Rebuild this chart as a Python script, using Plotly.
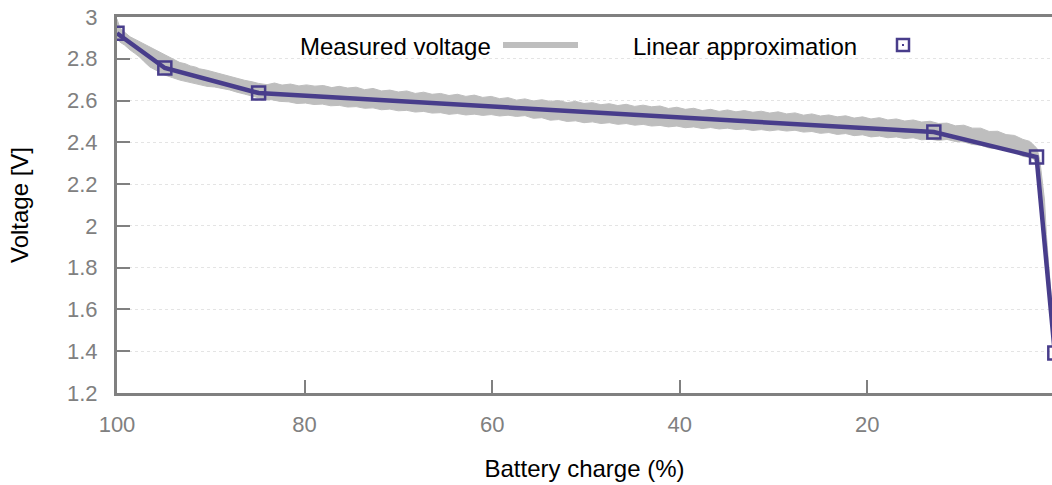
import plotly.graph_objects as go

# ---- data ----
# Measured voltage band: upper envelope (charge %, V) from 100 % down to 0 %
upper_charge = [100.0, 99.7, 99.4, 99.0, 98.6, 98.2, 97.6, 97.1, 96.5, 96.0, 95.4, 94.8, 94.3, 93.8,
                93.3, 92.7, 92.2, 91.6, 91.2, 90.4, 89.6, 88.8, 88.0, 87.2, 86.4, 85.6,
                84.9, 84.0, 83.2, 82.4, 81.5, 80.6, 79.8, 78.9, 78.0, 77.1, 76.3, 75.4, 74.5, 73.6,
                72.7, 71.8, 70.9, 70.0, 69.1, 68.2, 67.3, 66.4, 65.5, 64.6, 63.7, 62.8, 61.9, 61.0,
                60.1, 59.2, 58.3, 57.4, 56.5, 55.6, 54.7, 53.8, 52.9, 52.0, 51.1, 50.2, 49.3, 48.4,
                47.5, 46.6, 45.7, 44.8, 43.9, 43.0, 42.1, 41.2, 40.3, 39.4, 38.5, 37.6, 36.7, 35.8,
                34.9, 34.0, 33.1, 32.2, 31.3, 30.4, 29.5, 28.6, 27.7, 26.8, 25.9, 25.0, 24.1, 23.2,
                22.3, 21.4, 20.5, 19.6, 18.7, 17.8, 16.9, 16.0, 15.1, 14.2, 13.3, 12.4, 11.5, 10.6,
                9.7, 8.8, 7.9, 7.0, 6.1, 5.2, 4.3, 3.4, 2.7, 2.2, 1.9,
                1.6, 1.35, 1.1, 0.9, 0.66, 0.4, 0.13, 0.0]
upper_volt = [2.990, 2.950, 2.935, 2.918, 2.905, 2.896, 2.882, 2.870, 2.855, 2.846, 2.830, 2.818, 2.806, 2.795,
              2.782, 2.776, 2.766, 2.760, 2.752, 2.745, 2.735, 2.726, 2.716, 2.708, 2.697, 2.690,
              2.682, 2.676, 2.684, 2.674, 2.679, 2.670, 2.675, 2.669, 2.672, 2.662, 2.668, 2.660, 2.664, 2.652,
              2.658, 2.646, 2.650, 2.641, 2.646, 2.634, 2.640, 2.630, 2.634, 2.624, 2.630, 2.620, 2.626, 2.615,
              2.620, 2.609, 2.614, 2.602, 2.608, 2.598, 2.604, 2.596, 2.600, 2.590, 2.596, 2.586, 2.590, 2.580,
              2.585, 2.576, 2.582, 2.572, 2.578, 2.570, 2.574, 2.562, 2.568, 2.558, 2.563, 2.552, 2.558, 2.548,
              2.555, 2.546, 2.552, 2.544, 2.549, 2.540, 2.546, 2.536, 2.541, 2.530, 2.536, 2.526, 2.531, 2.522,
              2.527, 2.516, 2.522, 2.512, 2.518, 2.507, 2.512, 2.502, 2.507, 2.497, 2.501, 2.490, 2.492, 2.479,
              2.482, 2.468, 2.468, 2.452, 2.453, 2.437, 2.433, 2.414, 2.405, 2.385, 2.370,
              2.315, 2.220, 2.124, 1.960, 1.803, 1.670, 1.550, 1.360]
# lower envelope, from 0 % back up to 100 %
lower_charge = [0.2, 0.35, 0.5, 0.7, 0.85, 0.99, 1.1, 1.25, 1.4, 1.55, 1.65, 1.77,
                2.2, 2.7, 3.4, 4.3, 5.2, 6.1, 7.0, 7.9, 8.8, 9.7, 10.6, 11.5,
                12.4, 13.3, 14.2, 15.1, 16.0, 16.9, 17.8, 18.7, 19.6, 20.5, 21.4, 22.3, 23.2, 24.1,
                25.0, 25.9, 26.8, 27.7, 28.6, 29.5, 30.4, 31.3, 32.2, 33.1, 34.0, 34.9, 35.8, 36.7,
                37.6, 38.5, 39.4, 40.3, 41.2, 42.1, 43.0, 43.9, 44.8, 45.7, 46.6, 47.5, 48.4, 49.3,
                50.2, 51.1, 52.0, 52.9, 53.8, 54.7, 55.6, 56.5, 57.4, 58.3, 59.2, 60.1, 61.0, 61.9,
                62.8, 63.7, 64.6, 65.5, 66.4, 67.3, 68.2, 69.1, 70.0, 70.9, 71.8, 72.7, 73.6, 74.5,
                75.4, 76.3, 77.2, 78.1, 79.0, 79.9, 80.8, 81.7, 82.6, 83.5, 84.3, 84.9, 85.6, 86.4,
                87.2, 88.0, 88.8, 89.6, 90.4, 91.2, 92.2, 93.3, 94.1, 94.9, 95.7, 96.5, 97.1, 97.6,
                98.1, 98.6, 99.2, 99.7, 100.0]
lower_volt = [1.450, 1.550, 1.640, 1.700, 1.760, 1.803, 1.880, 1.960, 2.040, 2.124, 2.200, 2.290,
              2.318, 2.328, 2.333, 2.352, 2.360, 2.370, 2.373, 2.386, 2.390, 2.402, 2.404, 2.414,
              2.409, 2.415, 2.412, 2.422, 2.418, 2.426, 2.422, 2.430, 2.426, 2.436, 2.432, 2.442, 2.438, 2.447,
              2.443, 2.452, 2.449, 2.458, 2.454, 2.460, 2.455, 2.461, 2.457, 2.464, 2.461, 2.468, 2.464, 2.471,
              2.466, 2.474, 2.470, 2.478, 2.474, 2.481, 2.478, 2.486, 2.482, 2.490, 2.486, 2.494, 2.490, 2.498,
              2.494, 2.503, 2.500, 2.509, 2.506, 2.518, 2.515, 2.528, 2.524, 2.530, 2.526, 2.533, 2.529, 2.535,
              2.531, 2.538, 2.534, 2.542, 2.540, 2.548, 2.545, 2.553, 2.551, 2.559, 2.556, 2.565, 2.563, 2.571,
              2.569, 2.577, 2.575, 2.583, 2.581, 2.588, 2.586, 2.594, 2.596, 2.604, 2.606, 2.614, 2.620, 2.631,
              2.640, 2.651, 2.658, 2.665, 2.668, 2.676, 2.686, 2.698, 2.710, 2.722, 2.742, 2.761, 2.786, 2.809,
              2.826, 2.842, 2.866, 2.880, 2.899]

# Linear approximation breakpoints
approx_charge = [100.0, 94.9, 84.9, 12.9, 1.95, 0.0]
approx_volt = [2.922, 2.756, 2.636, 2.449, 2.330, 1.392]

x_ticks = [100, 80, 60, 40, 20]
y_ticks = [1.2, 1.4, 1.6, 1.8, 2.0, 2.2, 2.4, 2.6, 2.8, 3.0]
y_tick_labels = ["1.2", "1.4", "1.6", "1.8", "2", "2.2", "2.4", "2.6", "2.8", "3"]

legend_labels = ["Measured voltage", "Linear approximation"]

# ---- styles ----
GRAY_BAND = "#bebebe"
BLUE = "#483d8b"
AXIS = "#808080"
FONT = "Liberation Sans, Arial, sans-serif"

fig = go.Figure()

fig.add_trace(go.Scatter(
    x=upper_charge + lower_charge,
    y=upper_volt + lower_volt,
    mode="lines",
    fill="toself",
    fillcolor=GRAY_BAND,
    line=dict(color=GRAY_BAND, width=1),
    name=legend_labels[0],
    hoverinfo="skip",
    showlegend=False,
))

fig.add_trace(go.Scatter(
    x=approx_charge,
    y=approx_volt,
    mode="lines+markers",
    line=dict(color=BLUE, width=4.5),
    marker=dict(symbol="square-open", size=13, color=BLUE, line=dict(color=BLUE, width=2.5)),
    name=legend_labels[1],
    showlegend=False,
))

fig.update_layout(
    width=1052,
    height=485,
    margin=dict(l=117, r=0, t=17, b=92),
    plot_bgcolor="white",
    paper_bgcolor="white",
    font=dict(family=FONT, size=22, color="black"),
    showlegend=False,
)

fig.update_xaxes(
    range=[100, 0.3],
    tickvals=x_ticks,
    ticks="inside",
    ticklen=13,
    tickwidth=2,
    tickcolor=AXIS,
    showline=True,
    linecolor=AXIS,
    linewidth=3,
    mirror=True,
    showgrid=False,
    zeroline=False,
    tickfont=dict(size=22, color=AXIS),
    ticklabelstandoff=10,
    title=dict(text="Battery charge (%)", font=dict(size=24, color="black"), standoff=24),
)

fig.update_yaxes(
    range=[1.2, 3.0],
    tickvals=y_ticks,
    ticktext=y_tick_labels,
    ticks="inside",
    ticklen=13,
    tickwidth=2,
    tickcolor=AXIS,
    showline=True,
    linecolor=AXIS,
    linewidth=3,
    showgrid=True,
    gridcolor="#e4e4e4",
    griddash="dot",
    gridwidth=1,
    zeroline=False,
    tickfont=dict(size=22, color=AXIS),
    ticklabelstandoff=12,
    title=dict(text="Voltage [V]", font=dict(size=24, color="black"), standoff=32),
)

# ---- custom legend (text left of sample, like the reference) ----
def px_x(p):
    return (p - 117) / 935.0

def px_y(p):
    return (393 - p) / 376.0

fig.add_annotation(x=px_x(493), y=px_y(46), xref="paper", yref="paper", text=legend_labels[0],
                   showarrow=False, xanchor="right", yanchor="middle", font=dict(size=24, color="black"))
fig.add_annotation(x=px_x(859), y=px_y(46), xref="paper", yref="paper", text=legend_labels[1],
                   showarrow=False, xanchor="right", yanchor="middle", font=dict(size=24, color="black"))
fig.add_shape(type="line", xref="paper", yref="paper", x0=px_x(503), x1=px_x(578), y0=px_y(45), y1=px_y(45),
              line=dict(color=GRAY_BAND, width=6))
fig.add_shape(type="rect", xref="paper", yref="paper", x0=px_x(897), x1=px_x(909), y0=px_y(51), y1=px_y(39),
              line=dict(color=BLUE, width=2.5), fillcolor="rgba(0,0,0,0)")
fig.add_shape(type="rect", xref="paper", yref="paper", x0=px_x(902), x1=px_x(904), y0=px_y(46), y1=px_y(44),
              line=dict(color=BLUE, width=0), fillcolor=BLUE)

fig.write_html("out.html", config={"displayModeBar": False},
               post_script="document.body.style.margin='0';")
